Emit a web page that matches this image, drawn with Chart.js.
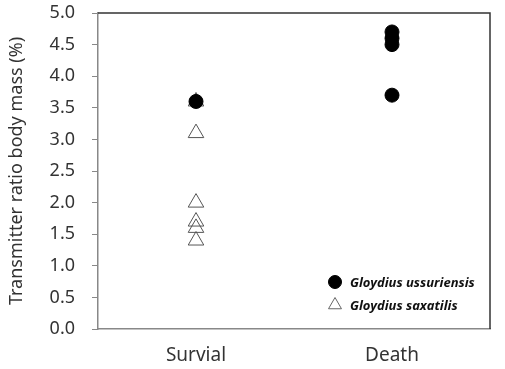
<!DOCTYPE html>
<html>
<head>
<meta charset="utf-8">
<script src="https://cdn.jsdelivr.net/npm/chart.js@4"></script>
<style>
  html, body { margin: 0; padding: 0; background: #fff; }
  #wrap { width: 505px; height: 369px; }
</style>
</head>
<body>
<div id="wrap"><canvas id="myChart" width="505" height="369"></canvas></div>
<script>
const categorias = ["Survial", "Death"];
const ussuriensis = [
  { x: "Survial", y: 3.6 },
  { x: "Death", y: 4.7 },
  { x: "Death", y: 4.6 },
  { x: "Death", y: 4.5 },
  { x: "Death", y: 3.7 },
];
const saxatilis = [
  { x: "Survial", y: 3.6 },
  { x: "Survial", y: 3.1 },
  { x: "Survial", y: 2.0 },
  { x: "Survial", y: 1.7 },
  { x: "Survial", y: 1.6 },
  { x: "Survial", y: 1.4 },
];
const yMin = 0;
const yMax = 5;
const yStep = 0.5;

const fuente = "'Noto Sans', 'Open Sans', sans-serif";

// marco superior y derecho + leyenda dentro del area
const marcoYLeyenda = {
  id: "marcoYLeyenda",
  afterDraw(chart) {
    const { ctx, chartArea } = chart;
    ctx.save();
    ctx.strokeStyle = "#333";
    ctx.lineWidth = 1.5;
    ctx.beginPath();
    ctx.moveTo(chartArea.left, chartArea.top);
    ctx.lineTo(chartArea.right, chartArea.top);
    ctx.lineTo(chartArea.right, chartArea.bottom);
    ctx.stroke();

    let y = chartArea.bottom - 47;
    chart.data.datasets.forEach((ds) => {
      const esCirculo = ds.pointStyle === "circle";
      ctx.fillStyle = esCirculo ? "#000" : "rgba(255,255,255,0)";
      ctx.strokeStyle = esCirculo ? "#000" : "#666";
      ctx.lineWidth = 1;
      Chart.helpers.drawPoint(
        ctx,
        { pointStyle: ds.pointStyle, radius: esCirculo ? 6.5 : 7.5, borderWidth: 1 },
        335,
        y
      );
      ctx.fillStyle = "#111";
      ctx.font = "italic bold 13px " + fuente;
      ctx.textBaseline = "middle";
      ctx.textAlign = "left";
      ctx.fillText(ds.label, 350, y + 1);
      y += 23;
    });
    ctx.restore();
  },
};

const ctx = document.getElementById("myChart");

const cfg = {
  type: "scatter",
  data: {
    labels: categorias,
    datasets: [
      {
        label: "Gloydius ussuriensis",
        data: ussuriensis,
        pointStyle: "circle",
        pointRadius: 7,
        backgroundColor: "#000",
        borderColor: "#000",
        borderWidth: 1,
      },
      {
        label: "Gloydius saxatilis",
        data: saxatilis,
        pointStyle: "triangle",
        pointRadius: 9,
        backgroundColor: "rgba(255,255,255,0)",
        borderColor: "#555",
        borderWidth: 1,
      },
    ],
  },
  options: {
    responsive: false,
    animation: false,
    layout: { padding: { top: 13, right: 15, left: 0, bottom: 0 } },
    plugins: {
      legend: { display: false },
      tooltip: { enabled: false },
    },
    scales: {
      x: {
        type: "category",
        labels: categorias,
        offset: true,
        grid: { display: false, drawTicks: false },
        border: { color: "#888", width: 1.5 },
        ticks: {
          color: "#333",
          font: { family: fuente, size: 19 },
          padding: 15,
        },
        afterFit(scale) {
          scale.height = 40;
          scale.paddingLeft = 0;
          scale.paddingRight = 0;
        },
      },
      y: {
        min: yMin,
        max: yMax,
        grid: {
          display: true,
          drawOnChartArea: false,
          drawTicks: true,
          tickLength: 6,
          color: "#888",
        },
        border: { color: "#888", width: 1.5 },
        ticks: {
          stepSize: yStep,
          color: "#333",
          font: { family: fuente, size: 18 },
          padding: 17,
          callback: (v) => Number(v).toFixed(1),
        },
        title: {
          display: true,
          text: "Transmitter ratio body mass (%)",
          color: "#333",
          font: { family: fuente, size: 18 },
          padding: { top: 6, bottom: 0 },
        },
        afterFit(scale) {
          scale.width = 98;
          scale.paddingTop = 0;
          scale.paddingBottom = 0;
        },
      },
    },
  },
  plugins: [marcoYLeyenda],
};

const myChart = new Chart(ctx, cfg);
</script>
</body>
</html>
